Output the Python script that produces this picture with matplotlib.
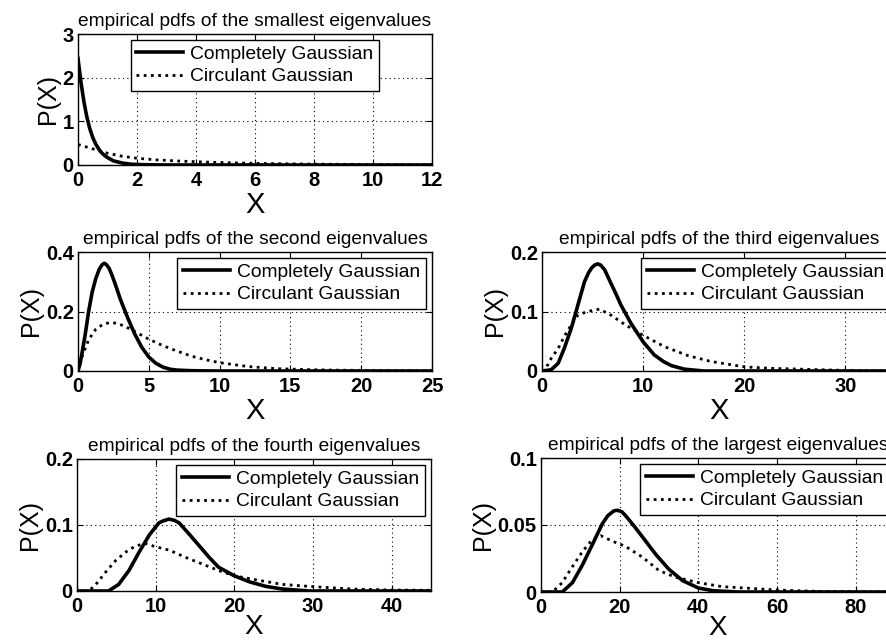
import numpy as np
import matplotlib.pyplot as plt

plt.rcParams['font.family'] = ['Liberation Sans', 'DejaVu Sans']

W, H = 887, 642

# smallest eigenvalues
x1_cg = [0, 0.1, 0.2, 0.3, 0.4, 0.5, 0.6, 0.7, 0.8, 0.9, 1.0, 1.2, 1.5, 1.8, 2.2, 3, 6, 12]
y1_cg = [2.44, 1.9, 1.45, 1.1, 0.83, 0.63, 0.48, 0.37, 0.28, 0.22, 0.17, 0.095, 0.045, 0.018, 0.006,
         0.001, 0, 0]
x1_cc = [0, 0.3, 0.6, 1, 1.5, 2, 2.7, 3.5, 4.5, 5.5, 6.5, 8, 10, 12]
y1_cc = [0.47, 0.41, 0.35, 0.27, 0.2, 0.155, 0.115, 0.088, 0.063, 0.045, 0.032, 0.02, 0.01, 0.005]

# second eigenvalues
x2_cg = [0, 0.15, 0.3, 0.5, 0.75, 1, 1.25, 1.5, 1.7, 1.85, 2.0, 2.2, 2.4, 2.6, 2.8, 3, 3.25, 3.5,
         3.75, 4, 4.5, 5, 5.5, 6, 6.5, 7, 8, 10, 25]
y2_cg = [0, 0.025, 0.065, 0.12, 0.2, 0.265, 0.31, 0.342, 0.357, 0.362, 0.358, 0.345, 0.322, 0.296,
         0.268, 0.24, 0.21, 0.18, 0.152, 0.125, 0.08, 0.047, 0.026, 0.013, 0.006, 0.003, 0.001, 0, 0]
x2_cc = [0, 0.3, 0.75, 1.25, 1.8, 2.3, 2.8, 3.4, 4, 5, 6, 7, 8, 9, 10, 12, 14, 16, 18, 20, 25]
y2_cc = [0, 0.05, 0.105, 0.14, 0.158, 0.163, 0.16, 0.148, 0.133, 0.107, 0.085, 0.067, 0.05, 0.038,
         0.028, 0.015, 0.008, 0.005, 0.003, 0.002, 0.0005]

# third eigenvalues
x3_cg = [0, 0.9, 1.6, 2.2, 2.9, 3.55, 4.2, 4.6, 4.9, 5.2, 5.5, 5.8, 6.2, 6.8, 7.3, 7.8, 8.8, 10,
         11.1, 12, 12.8, 14.1, 16, 35]
y3_cg = [0, 0.002, 0.013, 0.038, 0.072, 0.111, 0.15, 0.165, 0.173, 0.178, 0.18, 0.178, 0.17, 0.148,
         0.13, 0.111, 0.08, 0.049, 0.027, 0.016, 0.009, 0.003, 0, 0]
x3_cc = [0, 0.3, 0.9, 1.6, 2.2, 2.9, 3.55, 4.5, 5.7, 6.8, 8.2, 10, 12.1, 14.4, 16.7, 20, 22.6, 30, 35]
y3_cc = [0, 0.002, 0.021, 0.038, 0.058, 0.078, 0.094, 0.1, 0.104, 0.094, 0.078, 0.06, 0.041, 0.026,
         0.016, 0.007, 0.0045, 0.001, 0]

# fourth eigenvalues
x4_cg = [0, 4, 5.3, 6.6, 7.9, 9.2, 10.4, 10.9, 11.7, 12.4, 13, 14.2, 15.5, 16.8, 18, 20, 21.9, 24,
         26.1, 29.5, 45]
y4_cg = [0, 0, 0.01, 0.031, 0.059, 0.085, 0.103, 0.106, 0.109, 0.107, 0.103, 0.087, 0.069, 0.051,
         0.036, 0.023, 0.014, 0.007, 0.003, 0, 0]
x4_cc = [0, 1.5, 2.4, 3.6, 4.9, 6.2, 7.4, 8.7, 10, 11.7, 13.8, 15.9, 18, 20, 22.7, 26.1, 29.5, 35, 40, 45]
y4_cc = [0, 0, 0.01, 0.028, 0.046, 0.059, 0.068, 0.072, 0.067, 0.062, 0.051, 0.041, 0.031, 0.023,
         0.017, 0.01, 0.007, 0.003, 0.0015, 0.001]

# largest eigenvalues
x5_cg = [0, 5.4, 8, 10.5, 13, 15.6, 17, 18.5, 19.4, 20.5, 21.5, 24, 26.6, 29.2, 32.5, 36, 40, 43.6,
         50, 90]
y5_cg = [0, 0, 0.007, 0.02, 0.035, 0.051, 0.057, 0.0605, 0.061, 0.06, 0.057, 0.048, 0.038, 0.028,
         0.017, 0.0085, 0.003, 0.001, 0, 0]
x5_cc = [0, 2.9, 5.4, 8, 10.5, 13, 15.2, 18.1, 21.5, 25.8, 30, 34.2, 40, 46, 60, 70, 90]
y5_cc = [0, 0, 0.007, 0.019, 0.03, 0.039, 0.042, 0.038, 0.034, 0.026, 0.016, 0.011, 0.007, 0.004,
         0.0015, 0.0005, 0]

titles = ['empirical pdfs of the smallest eigenvalues',
          'empirical pdfs of the second eigenvalues',
          'empirical pdfs of the third eigenvalues',
          'empirical pdfs of the fourth eigenvalues',
          'empirical pdfs of the largest eigenvalues']
xlims = [12, 25, 35, 45, 90]
ylims = [3, 0.4, 0.2, 0.2, 0.1]
xticks = [[0, 2, 4, 6, 8, 10, 12], [0, 5, 10, 15, 20, 25], [0, 10, 20, 30],
          [0, 10, 20, 30, 40], [0, 20, 40, 60, 80]]
yticks = [[0, 1, 2, 3], [0, 0.2, 0.4], [0, 0.1, 0.2], [0, 0.1, 0.2], [0, 0.05, 0.1]]
yticklabels = [['0', '1', '2', '3'], ['0', '0.2', '0.4'], ['0', '0.1', '0.2'],
               ['0', '0.1', '0.2'], ['0', '0.05', '0.1']]
series = [(x1_cg, y1_cg, x1_cc, y1_cc), (x2_cg, y2_cg, x2_cc, y2_cc), (x3_cg, y3_cg, x3_cc, y3_cc),
          (x4_cg, y4_cg, x4_cc, y4_cc), (x5_cg, y5_cg, x5_cc, y5_cc)]
legend_locs = ['upper center', 'upper right', 'upper right', 'upper right', 'upper right']

# axes boxes in pixels: left, right, top, bottom
boxes = [(78, 432, 34, 165), (78, 432, 252, 371), (542, 896, 252, 371),
         (77, 431, 459, 591), (541, 895, 458, 592)]

fig = plt.figure(figsize=(W / 100, H / 100), dpi=100)

for i in range(5):
    l, r, t, b = boxes[i]
    ax = fig.add_axes([l / W, 1 - b / H, (r - l) / W, (b - t) / H])
    xc, yc, xd, yd = series[i]
    ax.plot(xc, yc, color='black', lw=2.6, label='Completely Gaussian')
    ax.plot(xd, yd, color='black', lw=2.0, ls=(0, (1, 1.6)), label='Circulant Gaussian')
    ax.set_xlim(0, xlims[i])
    ax.set_ylim(0, ylims[i])
    ax.set_xticks(xticks[i])
    ax.set_yticks(yticks[i])
    ax.set_yticklabels(yticklabels[i])
    ax.grid(True, color='black', ls=(0, (1, 3)), lw=0.8)
    ax.tick_params(direction='in', length=4, top=True, right=True, labelsize=14.5)
    ax.tick_params(axis='x', pad=4)
    ax.tick_params(axis='y', pad=3)
    for lab in ax.get_xticklabels() + ax.get_yticklabels():
        lab.set_fontweight('bold')
    for s in ax.spines.values():
        s.set_linewidth(1.0)
    ax.set_title(titles[i], fontsize=13.8, pad=6)
    if i >= 3:
        ax.set_xlabel('X', fontsize=20, labelpad=-1)
    else:
        ax.set_xlabel('X', fontsize=21, labelpad=1)
    ax.set_ylabel('P(X)', fontsize=18, labelpad=2)
    leg = ax.legend(loc=legend_locs[i], fontsize=13.9, frameon=True, fancybox=False,
                    edgecolor='black', framealpha=1, handlelength=2.4, handletextpad=0.4,
                    borderpad=0.3, labelspacing=0.25, borderaxespad=0.3)
    leg.get_frame().set_linewidth(1.0)

fig.savefig('out.png', dpi=100)
